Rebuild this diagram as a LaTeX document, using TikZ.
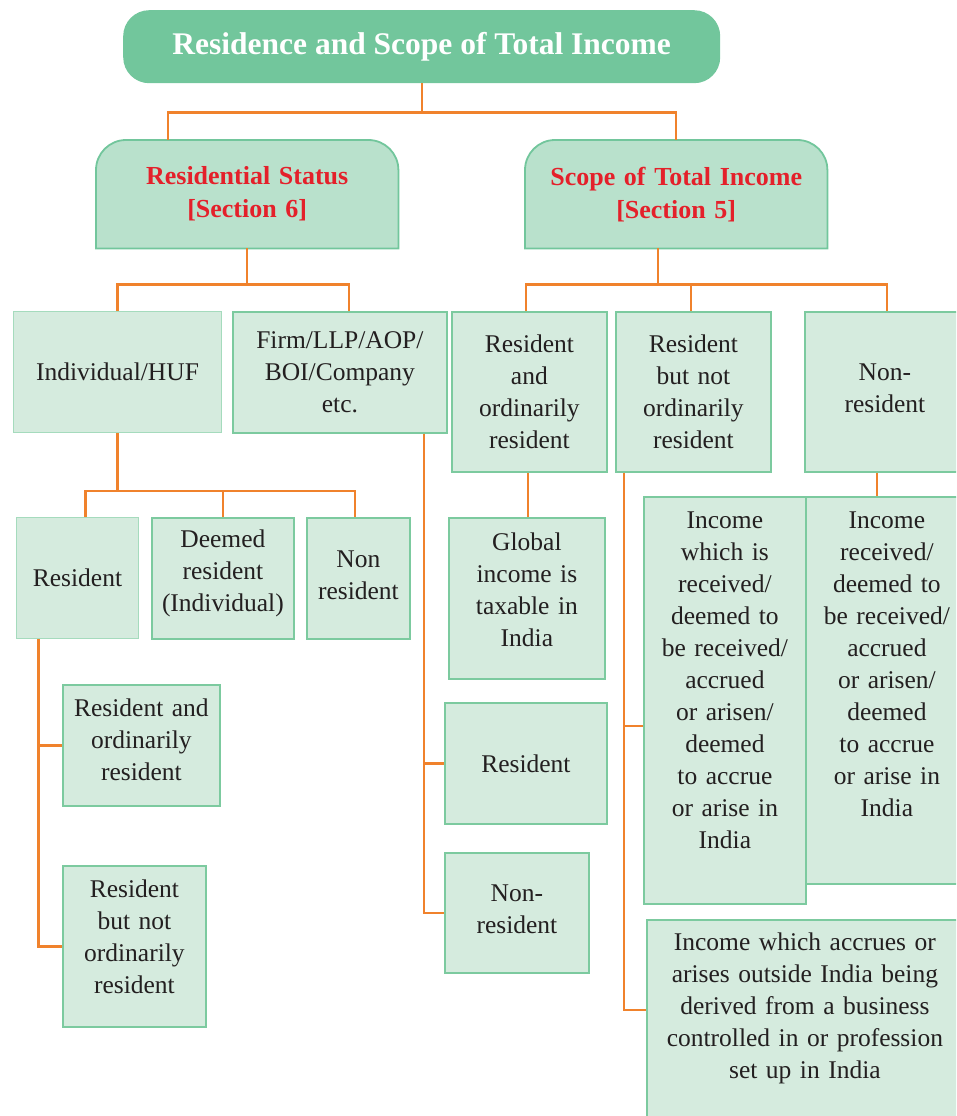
\documentclass[tikz,border=0pt]{standalone}
\usepackage{fontspec}
\setmainfont{Liberation Serif}
\usetikzlibrary{backgrounds}
\definecolor{titlegreen}{HTML}{72C69C}
\definecolor{headfill}{HTML}{B9E1CC}
\definecolor{leaffill}{HTML}{D5EBDE}
\definecolor{leafline}{HTML}{7CCA9F}
\definecolor{leaflight}{HTML}{A5DBBD}
\definecolor{linkorange}{HTML}{F0822C}
\definecolor{txt}{HTML}{231F20}
\definecolor{headred}{HTML}{E4202A}
% extra space below the last line, so the text sits higher in its box
\newcommand\boxliftspace[1]{\endgraf\vspace*{#1}}
\begin{document}
\begin{tikzpicture}[x=1pt,y=1pt,
  wh/.style 2 args={minimum width=#1, minimum height=#2, text width=#1},
  box/.style={rectangle, inner sep=0pt, align=center, text=txt,
    font=\fontsize{25.5}{32}\selectfont, fill=leaffill, draw=leafline,
    line width=1.8pt, anchor=north west},
  thinbox/.style={box, draw=leaflight, line width=1pt},
  lift/.style={execute at end node={\boxliftspace{#1}}},
  headbox/.style={rectangle, inner sep=0pt, align=center, text=headred,
    font=\fontsize{26}{33}\selectfont\bfseries, anchor=north west},
  headframe/.style={fill=headfill, draw=titlegreen, line width=1.8pt},
  titlebox/.style={rectangle, rounded corners=26pt, fill=titlegreen, text=white,
    font=\fontsize{31.5}{36}\selectfont\bfseries, anchor=north west,
    minimum width=597pt, minimum height=73pt},
  link/.style={draw=linkorange, line width=2.2pt}]
\useasboundingbox (0,0) rectangle (956,-1116);
\clip (0,0) rectangle (956,-1116);

% root
\node[titlebox] (title) at (123,-10) {Residence and Scope of Total Income};

% section headings
\node[headbox, wh={302pt}{108pt}] (rs) at (96,-140) {Residential Status\\{[}Section 6{]}};
\node[headbox, wh={302pt}{108pt}] (sc) at (525,-140) {Scope of Total Income\\{[}Section 5{]}};
\begin{scope}[on background layer]
  \foreach \h in {rs,sc}{
    \draw[headframe] (\h.south west) -- ([yshift=-30pt]\h.north west)
      arc[start angle=180, end angle=90, radius=30pt]
      -- ([xshift=-30pt]\h.north east)
      arc[start angle=90, end angle=0, radius=30pt]
      -- (\h.south east) -- cycle;
  }
\end{scope}

% residential status branch
\node[thinbox, wh={208pt}{121pt}] (ind) at (13,-311) {Individual/HUF};
\node[box, wh={214pt}{121pt}] (firm) at (232,-311) {Firm/LLP/AOP/\\BOI/Company\\etc.};
\node[thinbox, wh={122pt}{121pt}] (res) at (16,-517) {Resident};
\node[box, wh={142pt}{121pt}, lift=10pt] (deem) at (151,-517) {Deemed\\resident\\(Individual)};
\node[box, wh={103pt}{121pt}, lift=6pt] (nonres) at (306,-517) {Non\\resident};
\node[box, wh={157pt}{121pt}, lift=12pt] (lror) at (62,-684) {Resident and\\ordinarily\\resident};
\node[box, wh={143pt}{161pt}, lift=20pt] (lrnor) at (62,-865) {Resident\\but not\\ordinarily\\resident};
\node[box, wh={162pt}{121pt}] (fres) at (444,-702) {Resident};
\node[box, wh={144pt}{120pt}, lift=8pt] (fnon) at (444,-852) {Non-\\resident};

% scope of total income branch
\node[box, wh={155pt}{160pt}] (sror) at (451,-311) {Resident\\and\\ordinarily\\resident};
\node[box, wh={155pt}{160pt}] (srnor) at (615,-311) {Resident\\but not\\ordinarily\\resident};
\node[box, wh={160pt}{160pt}, lift=8pt] (snr) at (804,-311) {Non-\\resident};
\node[box, wh={156pt}{161pt}, lift=18pt] (glob) at (448,-517) {Global\\income is\\taxable in\\India};
\node[box, wh={162pt}{407pt}, lift=40pt] (inc1) at (643,-496)
  {Income\\which is\\received/\\deemed to\\be received/\\accrued\\or arisen/\\deemed\\to accrue\\or arise in\\India};
\node[box, wh={162pt}{387pt}, lift=52pt] (inc2) at (805,-496)
  {Income\\received/\\deemed to\\be received/\\accrued\\or arisen/\\deemed\\to accrue\\or arise in\\India};
\node[box, wh={316pt}{221pt}, lift=44pt] (outside) at (646,-919)
  {Income which accrues or\\arises outside India being\\derived from a business\\controlled in or profession\\set up in India};

% connectors
\draw[link] (title.south) -- ++(0,-29) -| ([xshift=-79pt]rs.north);
\draw[link] (title.south) -- ++(0,-29) -| (sc.north);

\draw[link] (rs.south) -- ++(0,-36) -| (ind.north);
\draw[link] (rs.south) -- ++(0,-36) -| ([xshift=9pt]firm.north);

\draw[link] (ind.south) -- ++(0,-58) -| ([xshift=8pt]res.north);
\draw[link] (ind.south) -- ++(0,-58) -| (deem.north);
\draw[link] (ind.south) -- ++(0,-58) -| ([xshift=-3.5pt]nonres.north);

\coordinate (rl) at ([xshift=-39pt]res.south);
\draw[link] (rl) |- (lror.west);
\draw[link] (rl) |- (lrnor.west);

\coordinate (fl) at ([xshift=84pt]firm.south);
\draw[link] (fl) |- (fres.west);
\draw[link] (fl) |- (fnon.west);

\draw[link] ([xshift=-18pt]sc.south) -- ++(0,-36) -| ([xshift=-3.5pt]sror.north);
\draw[link] ([xshift=-18pt]sc.south) -- ++(0,-36) -| ([xshift=-2.5pt]srnor.north);
\draw[link] ([xshift=-18pt]sc.south) -- ++(0,-36) -| ([xshift=2pt]snr.north);

\draw[link] ([xshift=-1.5pt]sror.south) -- ([xshift=-1.5pt]sror.south |- glob.north);

\coordinate (nl) at ([xshift=-69.5pt]srnor.south);
\draw[link] (nl) |- (inc1.west |- 0,-726);
\draw[link] (nl) |- (outside.west |- 0,-1010);

\draw[link] ([xshift=-8pt]snr.south) -- ([xshift=-8pt]snr.south |- inc2.north);
\end{tikzpicture}
\end{document}
